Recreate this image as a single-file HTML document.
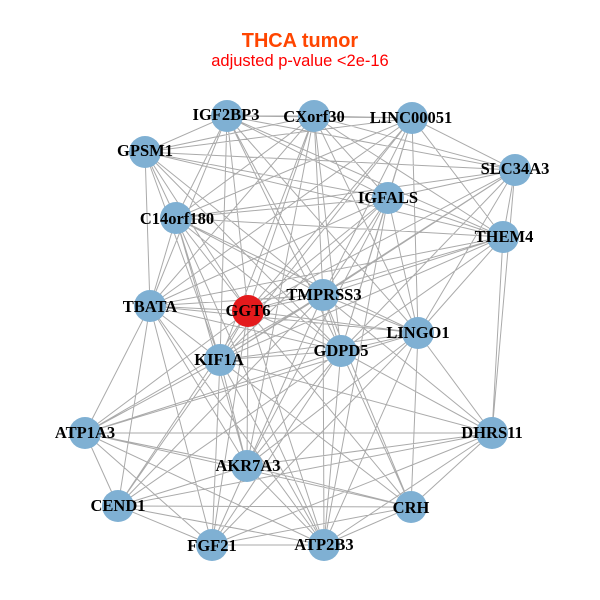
<!DOCTYPE html>
<html><head><meta charset="utf-8"><style>html,body{margin:0;padding:0;background:#fff}svg{display:block}</style></head>
<body>
<svg width="600" height="600" viewBox="0 0 600 600" xmlns="http://www.w3.org/2000/svg">
<rect width="600" height="600" fill="#fff"/>
<path fill="none" stroke="#aaaaaa" stroke-width="1" d="
M227 116L145 152M227 116L314 116M227 116L412 118M227 116L515 170M227 116L503 237M227 116L388 198M227 116L176 218M227 116L150 306M227 116L220 360M227 116L248 311M227 116L323 295M227 116L341 351M227 116L418 333
M314 116L145 152M314 116L412 118M314 116L515 170M314 116L503 237M314 116L388 198M314 116L176 218M314 116L150 306M314 116L248 311M314 116L220 360M314 116L323 295M314 116L341 351M314 116L418 333M314 116L247 466
M412 118L145 152M412 118L515 170M412 118L503 237M412 118L388 198M412 118L176 218M412 118L150 306M412 118L248 311M412 118L220 360M412 118L323 295M412 118L341 351M412 118L418 333
M145 152L515 170M145 152L503 237M145 152L388 198M145 152L176 218M145 152L150 306M145 152L220 360M145 152L248 311M145 152L323 295M145 152L341 351
M515 170L503 237M515 170L388 198M515 170L176 218M515 170L248 311M515 170L323 295M515 170L418 333M515 170L341 351M515 170L492 433M515 170L220 360
M176 218L388 198M176 218L503 237M176 218L150 306M176 218L220 360M176 218L248 311M176 218L323 295M176 218L341 351M176 218L418 333M176 218L247 466M176 218L324 545
M388 198L503 237M388 198L150 306M388 198L248 311M388 198L220 360M388 198L323 295M388 198L341 351M388 198L418 333M388 198L247 466M388 198L324 545
M503 237L150 306M503 237L248 311M503 237L323 295M503 237L341 351M503 237L418 333M503 237L220 360M503 237L492 433
M150 306L248 311M150 306L323 295M150 306L418 333M150 306L341 351M150 306L220 360M150 306L85 433M150 306L118 506M150 306L212 545M150 306L247 466M150 306L324 545M150 306L411 507
M248 311L323 295M248 311L418 333M248 311L341 351M248 311L220 360M248 311L85 433M248 311L247 466M248 311L118 506M248 311L212 545M248 311L324 545M248 311L411 507
M323 295L418 333M323 295L341 351M323 295L220 360M323 295L85 433M323 295L247 466M323 295L118 506M323 295L212 545M323 295L324 545M323 295L411 507M323 295L492 433
M418 333L341 351M418 333L220 360M418 333L85 433M418 333L492 433M418 333L247 466M418 333L411 507M418 333L212 545M418 333L324 545
M341 351L220 360M341 351L85 433M341 351L492 433M341 351L247 466M341 351L118 506M341 351L411 507M341 351L212 545M341 351L324 545
M220 360L85 433M220 360L247 466M220 360L118 506M220 360L212 545M220 360L324 545M220 360L411 507M220 360L492 433
M85 433L492 433M85 433L247 466M85 433L118 506M85 433L411 507M85 433L212 545M85 433L324 545
M492 433L247 466M492 433L411 507M492 433L118 506M492 433L212 545M492 433L324 545
M247 466L118 506M247 466L411 507M247 466L212 545M247 466L324 545
M118 506L411 507M118 506L212 545M118 506L324 545
M411 507L212 545M411 507L324 545
M212 545L324 545"/>
<g fill="#7fb0d3">
<circle cx="227" cy="116" r="16"/><circle cx="314" cy="116" r="16"/><circle cx="412" cy="118" r="16"/><circle cx="145" cy="152" r="16"/><circle cx="515" cy="170" r="16"/><circle cx="176" cy="218" r="16"/><circle cx="388" cy="198" r="16"/><circle cx="503" cy="237" r="16"/><circle cx="150" cy="306" r="16"/><circle cx="323" cy="295" r="16"/><circle cx="418" cy="333" r="16"/><circle cx="341" cy="351" r="16"/><circle cx="220" cy="360" r="16"/><circle cx="85" cy="433" r="16"/><circle cx="492" cy="433" r="16"/><circle cx="247" cy="466" r="16"/><circle cx="118" cy="506" r="16"/><circle cx="411" cy="507" r="16"/><circle cx="212" cy="545" r="16"/><circle cx="324" cy="545" r="16"/>
</g>
<circle cx="248" cy="311" r="16" fill="#e41a1c"/>
<g font-family="'Liberation Serif',serif" font-weight="bold" font-size="16.5" text-anchor="middle" fill="#000">
<text x="226" y="120">IGF2BP3</text>
<text x="314" y="122">CXorf30</text>
<text x="411" y="123">LINC00051</text>
<text x="145" y="156">GPSM1</text>
<text x="515" y="174">SLC34A3</text>
<text x="177" y="224">C14orf180</text>
<text x="388" y="203">IGFALS</text>
<text x="504" y="242">THEM4</text>
<text x="150" y="312">TBATA</text>
<text x="248" y="316">GGT6</text>
<text x="324" y="300">TMPRSS3</text>
<text x="418" y="338">LINGO1</text>
<text x="341" y="356">GDPD5</text>
<text x="219" y="365">KIF1A</text>
<text x="85" y="438">ATP1A3</text>
<text x="492" y="438">DHRS11</text>
<text x="248" y="471">AKR7A3</text>
<text x="118" y="511">CEND1</text>
<text x="411" y="513">CRH</text>
<text x="212" y="551">FGF21</text>
<text x="324" y="550">ATP2B3</text>
</g>
<text x="300" y="47" text-anchor="middle" font-family="'Liberation Sans',sans-serif" font-weight="bold" font-size="19.9" fill="#ff4500">THCA tumor</text>
<text x="300" y="66" text-anchor="middle" font-family="'Liberation Sans',sans-serif" font-size="16.5" fill="#ff0000">adjusted p-value &lt;2e-16</text>
</svg>
</body></html>
